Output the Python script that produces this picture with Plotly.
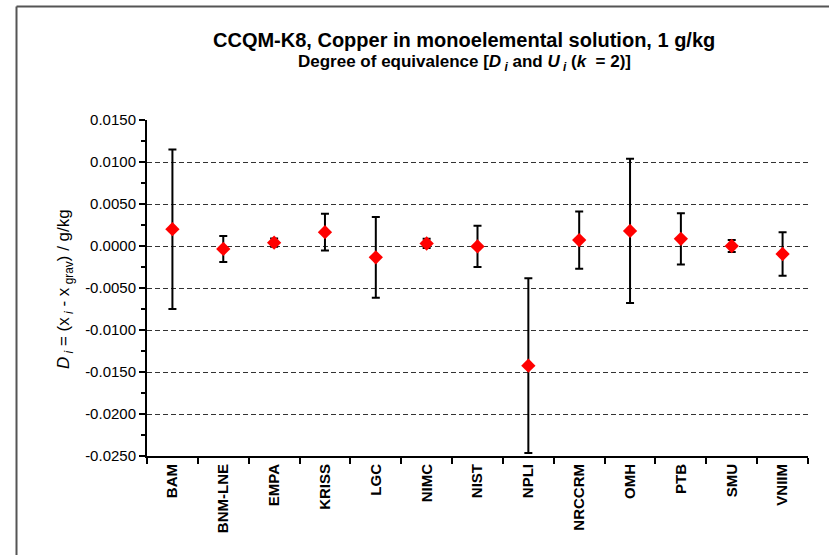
import plotly.graph_objects as go

labs = ["BAM", "BNM-LNE", "EMPA", "KRISS", "LGC", "NIMC", "NIST", "NPLI",
        "NRCCRM", "OMH", "PTB", "SMU", "VNIIM"]
D = [0.0020, -0.00035, 0.0004, 0.00165, -0.00135, 0.0003, -0.00005, -0.01425,
     0.0007, 0.0018, 0.00085, 0.0000, -0.00095]
U = [0.0095, 0.00155, 0.0005, 0.0022, 0.0048, 0.00055, 0.00245, 0.0104,
     0.0034, 0.0086, 0.00305, 0.0007, 0.0026]
ytick_vals = [0.015, 0.010, 0.005, 0.0, -0.005, -0.010, -0.015, -0.020, -0.025]
ytick_text = ["0.0150", "0.0100", "0.0050", "0.0000", "-0.0050", "-0.0100",
              "-0.0150", "-0.0200", "-0.0250"]

FONT = "Liberation Sans, Arial, sans-serif"

fig = go.Figure()
fig.add_trace(go.Scatter(
    x=labs, y=D, mode="markers",
    marker=dict(symbol="diamond", size=11, color="#ff0000", line=dict(width=0)),
    error_y=dict(type="data", array=U, symmetric=True, color="black",
                 thickness=2, width=4),
    showlegend=False,
))

L, R, T, B = 147, 21, 120, 99
W, H = 829, 555
pw, ph = W - L - R, H - T - B

fig.update_layout(
    width=W, height=H,
    margin=dict(l=L, r=R, t=T, b=B),
    paper_bgcolor="white", plot_bgcolor="white",
    font=dict(family=FONT, color="black", size=12),
    xaxis=dict(type="category", range=[-0.5, 12.5], showgrid=False,
               showline=True, linecolor="black", linewidth=2,
               ticks="outside", ticklen=6, tickcolor="black", tickwidth=1.5,
               tickson="boundaries", tickangle=-90,
               tickfont=dict(family=FONT, size=15, color="black"),
               tickprefix="<b>", ticksuffix="</b>", zeroline=False),
    yaxis=dict(range=[-0.025, 0.015], tickvals=ytick_vals, ticktext=ytick_text,
               showline=True, linecolor="black", linewidth=2,
               ticks="outside", ticklen=6, tickcolor="black", tickwidth=1.5,
               showgrid=True, gridcolor="#333333", gridwidth=1, griddash="5px,3px",
               zeroline=False,
               minor=dict(dtick=0.0025, tick0=0, ticks="outside", ticklen=4,
                          tickcolor="black", tickwidth=1.5, showgrid=False),
               tickfont=dict(family=FONT, size=15, color="black")),
)

def px_to_paper_x(px):
    return (px - L) / pw

def py_to_paper_y(py):
    return (H - B - py) / ph

fig.add_annotation(
    x=px_to_paper_x(464), y=py_to_paper_y(40), xref="paper", yref="paper",
    text="<b>CCQM-K8, Copper in monoelemental solution, 1 g/kg</b>",
    showarrow=False, font=dict(family=FONT, size=20, color="black"),
    xanchor="center", yanchor="middle")
fig.add_annotation(
    x=px_to_paper_x(464), y=py_to_paper_y(63), xref="paper", yref="paper",
    text="<b>Degree of equivalence [<i>D</i><sub><i> i</i></sub> and <i>U</i><sub><i> i</i></sub> (<i>k</i>  = 2)]</b>",
    showarrow=False, font=dict(family=FONT, size=17, color="black"),
    xanchor="center", yanchor="middle")
fig.add_annotation(
    x=px_to_paper_x(65), y=py_to_paper_y(289), xref="paper", yref="paper",
    text="<i>D</i><sub><i> i</i></sub> = (x<sub><i> i</i></sub> - x<sub> grav</sub>) / g/kg",
    showarrow=False, textangle=-90, font=dict(family=FONT, size=17, color="black"),
    xanchor="center", yanchor="middle")

# outer chart frame (top and left edges visible)
fig.add_shape(type="line", xref="paper", yref="paper",
              x0=px_to_paper_x(16.5), x1=px_to_paper_x(835),
              y0=py_to_paper_y(6.5), y1=py_to_paper_y(6.5),
              line=dict(color="#555555", width=2))
fig.add_shape(type="line", xref="paper", yref="paper",
              x0=px_to_paper_x(16.5), x1=px_to_paper_x(16.5),
              y0=py_to_paper_y(6.5), y1=py_to_paper_y(560),
              line=dict(color="#555555", width=2))

fig.write_html("out.html")
